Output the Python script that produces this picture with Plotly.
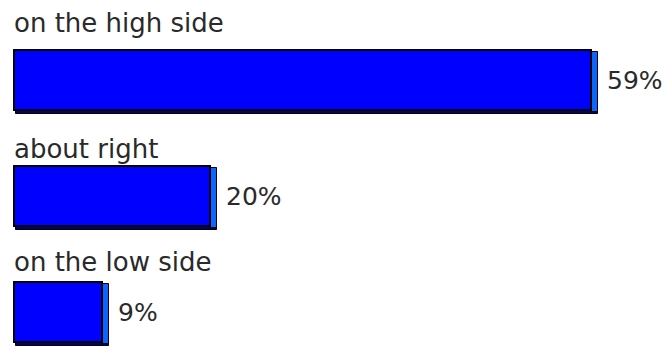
import plotly.graph_objects as go

# Survey answers and their shares (percent)
categories = ["on the high side", "about right", "on the low side"]
values = [59, 20, 9]
value_labels = ["59%", "20%", "9%"]

FACE = "#0000FF"
SIDE = "#0A66FF"
SHADOW = "#000070"
INK = "#2a2a2a"
FONT = "DejaVu Sans"

BAR_W = 0.52          # bar thickness in category units
DEPTH_X = 0.75        # 3D side depth in value units
DROP = 0.03           # 3D drop in category units

fig = go.Figure()

# bottom shadow of each bar
fig.add_trace(go.Bar(
    y=categories, x=[v + DEPTH_X - 0.25 for v in values], base=0.25,
    orientation="h", width=BAR_W, offset=-BAR_W / 2 + DROP,
    marker=dict(color=SHADOW, line=dict(color="black", width=1)),
    hoverinfo="skip", showlegend=False,
))
# right-hand side face
fig.add_trace(go.Bar(
    y=categories, x=[DEPTH_X] * len(values), base=values,
    orientation="h", width=BAR_W, offset=-BAR_W / 2 + DROP * 0.6,
    marker=dict(color=SIDE, line=dict(color="black", width=1)),
    hoverinfo="skip", showlegend=False,
))
# front face
fig.add_trace(go.Bar(
    y=categories, x=values, base=0,
    orientation="h", width=BAR_W, offset=-BAR_W / 2,
    marker=dict(color=FACE, line=dict(color="black", width=2)),
    hoverinfo="skip", showlegend=False,
))

annotations = []
label_lift = [57, 47, 50]
for cat, lift in zip(categories, label_lift):
    annotations.append(dict(
        x=0, y=cat, xref="x", yref="y", text=cat, showarrow=False,
        xanchor="left", yanchor="middle", xshift=-2, yshift=lift,
        font=dict(family=FONT, size=26, color=INK),
    ))
for cat, v, lab in zip(categories, values, value_labels):
    annotations.append(dict(
        x=v, y=cat, xref="x", yref="y", text=lab, showarrow=False,
        xanchor="left", yanchor="middle", xshift=14, yshift=0,
        font=dict(family=FONT, size=25, color=INK),
    ))

fig.update_layout(
    width=664, height=346,
    margin=dict(l=0, r=0, t=0, b=0),
    paper_bgcolor="white", plot_bgcolor="white",
    barmode="overlay", bargap=0,
    xaxis=dict(range=[-1.43, 66.46], visible=False, fixedrange=True),
    yaxis=dict(range=[2.293, -0.69], visible=False, fixedrange=True,
               type="category", categoryorder="array", categoryarray=categories),
    annotations=annotations,
    showlegend=False,
)

fig.write_html("out.html")
